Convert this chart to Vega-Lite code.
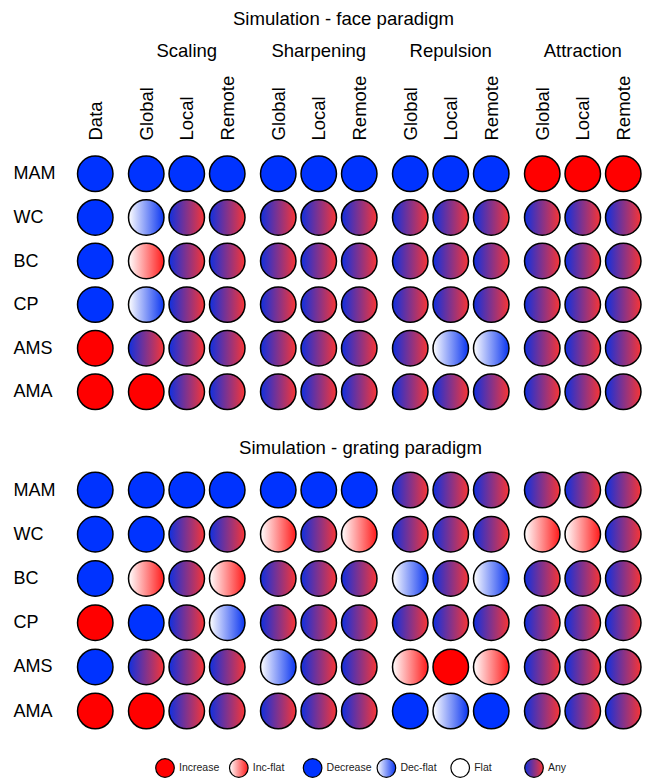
{
  "$schema": "https://vega.github.io/schema/vega-lite/v6.json",
  "padding": {"left": 13, "top": 9, "right": 0, "bottom": 0},
  "background": "white",
  "spacing": 22,
  "config": {
    "font": "Liberation Sans",
    "view": {"stroke": null},
    "axis": {"labelColor": "black", "labelFont": "Liberation Sans"},
    "header": {"labelColor": "black", "labelFont": "Liberation Sans"},
    "title": {"color": "black", "font": "Liberation Sans", "fontWeight": "normal", "fontSize": 18.6}
  },
  "datasets": {
    "face": [
      {"r":"MAM","g":"Data","c":"Data","t":"Decrease"},
      {"r":"MAM","g":"Scaling","c":"Global","t":"Decrease"},
      {"r":"MAM","g":"Scaling","c":"Local","t":"Decrease"},
      {"r":"MAM","g":"Scaling","c":"Remote","t":"Decrease"},
      {"r":"MAM","g":"Sharpening","c":"Global","t":"Decrease"},
      {"r":"MAM","g":"Sharpening","c":"Local","t":"Decrease"},
      {"r":"MAM","g":"Sharpening","c":"Remote","t":"Decrease"},
      {"r":"MAM","g":"Repulsion","c":"Global","t":"Decrease"},
      {"r":"MAM","g":"Repulsion","c":"Local","t":"Decrease"},
      {"r":"MAM","g":"Repulsion","c":"Remote","t":"Decrease"},
      {"r":"MAM","g":"Attraction","c":"Global","t":"Increase"},
      {"r":"MAM","g":"Attraction","c":"Local","t":"Increase"},
      {"r":"MAM","g":"Attraction","c":"Remote","t":"Increase"},
      {"r":"WC","g":"Data","c":"Data","t":"Decrease"},
      {"r":"WC","g":"Scaling","c":"Global","t":"Dec-flat"},
      {"r":"WC","g":"Scaling","c":"Local","t":"Any"},
      {"r":"WC","g":"Scaling","c":"Remote","t":"Any"},
      {"r":"WC","g":"Sharpening","c":"Global","t":"Any"},
      {"r":"WC","g":"Sharpening","c":"Local","t":"Any"},
      {"r":"WC","g":"Sharpening","c":"Remote","t":"Any"},
      {"r":"WC","g":"Repulsion","c":"Global","t":"Any"},
      {"r":"WC","g":"Repulsion","c":"Local","t":"Any"},
      {"r":"WC","g":"Repulsion","c":"Remote","t":"Any"},
      {"r":"WC","g":"Attraction","c":"Global","t":"Any"},
      {"r":"WC","g":"Attraction","c":"Local","t":"Any"},
      {"r":"WC","g":"Attraction","c":"Remote","t":"Any"},
      {"r":"BC","g":"Data","c":"Data","t":"Decrease"},
      {"r":"BC","g":"Scaling","c":"Global","t":"Inc-flat"},
      {"r":"BC","g":"Scaling","c":"Local","t":"Any"},
      {"r":"BC","g":"Scaling","c":"Remote","t":"Any"},
      {"r":"BC","g":"Sharpening","c":"Global","t":"Any"},
      {"r":"BC","g":"Sharpening","c":"Local","t":"Any"},
      {"r":"BC","g":"Sharpening","c":"Remote","t":"Any"},
      {"r":"BC","g":"Repulsion","c":"Global","t":"Any"},
      {"r":"BC","g":"Repulsion","c":"Local","t":"Any"},
      {"r":"BC","g":"Repulsion","c":"Remote","t":"Any"},
      {"r":"BC","g":"Attraction","c":"Global","t":"Any"},
      {"r":"BC","g":"Attraction","c":"Local","t":"Any"},
      {"r":"BC","g":"Attraction","c":"Remote","t":"Any"},
      {"r":"CP","g":"Data","c":"Data","t":"Decrease"},
      {"r":"CP","g":"Scaling","c":"Global","t":"Dec-flat"},
      {"r":"CP","g":"Scaling","c":"Local","t":"Any"},
      {"r":"CP","g":"Scaling","c":"Remote","t":"Any"},
      {"r":"CP","g":"Sharpening","c":"Global","t":"Any"},
      {"r":"CP","g":"Sharpening","c":"Local","t":"Any"},
      {"r":"CP","g":"Sharpening","c":"Remote","t":"Any"},
      {"r":"CP","g":"Repulsion","c":"Global","t":"Any"},
      {"r":"CP","g":"Repulsion","c":"Local","t":"Any"},
      {"r":"CP","g":"Repulsion","c":"Remote","t":"Any"},
      {"r":"CP","g":"Attraction","c":"Global","t":"Any"},
      {"r":"CP","g":"Attraction","c":"Local","t":"Any"},
      {"r":"CP","g":"Attraction","c":"Remote","t":"Any"},
      {"r":"AMS","g":"Data","c":"Data","t":"Increase"},
      {"r":"AMS","g":"Scaling","c":"Global","t":"Any"},
      {"r":"AMS","g":"Scaling","c":"Local","t":"Any"},
      {"r":"AMS","g":"Scaling","c":"Remote","t":"Any"},
      {"r":"AMS","g":"Sharpening","c":"Global","t":"Any"},
      {"r":"AMS","g":"Sharpening","c":"Local","t":"Any"},
      {"r":"AMS","g":"Sharpening","c":"Remote","t":"Any"},
      {"r":"AMS","g":"Repulsion","c":"Global","t":"Any"},
      {"r":"AMS","g":"Repulsion","c":"Local","t":"Dec-flat"},
      {"r":"AMS","g":"Repulsion","c":"Remote","t":"Dec-flat"},
      {"r":"AMS","g":"Attraction","c":"Global","t":"Any"},
      {"r":"AMS","g":"Attraction","c":"Local","t":"Any"},
      {"r":"AMS","g":"Attraction","c":"Remote","t":"Any"},
      {"r":"AMA","g":"Data","c":"Data","t":"Increase"},
      {"r":"AMA","g":"Scaling","c":"Global","t":"Increase"},
      {"r":"AMA","g":"Scaling","c":"Local","t":"Any"},
      {"r":"AMA","g":"Scaling","c":"Remote","t":"Any"},
      {"r":"AMA","g":"Sharpening","c":"Global","t":"Any"},
      {"r":"AMA","g":"Sharpening","c":"Local","t":"Any"},
      {"r":"AMA","g":"Sharpening","c":"Remote","t":"Any"},
      {"r":"AMA","g":"Repulsion","c":"Global","t":"Any"},
      {"r":"AMA","g":"Repulsion","c":"Local","t":"Any"},
      {"r":"AMA","g":"Repulsion","c":"Remote","t":"Any"},
      {"r":"AMA","g":"Attraction","c":"Global","t":"Any"},
      {"r":"AMA","g":"Attraction","c":"Local","t":"Any"},
      {"r":"AMA","g":"Attraction","c":"Remote","t":"Any"}
    ],
    "grating": [
      {"r":"MAM","g":"Data","c":"Data","t":"Decrease"},
      {"r":"MAM","g":"Scaling","c":"Global","t":"Decrease"},
      {"r":"MAM","g":"Scaling","c":"Local","t":"Decrease"},
      {"r":"MAM","g":"Scaling","c":"Remote","t":"Decrease"},
      {"r":"MAM","g":"Sharpening","c":"Global","t":"Decrease"},
      {"r":"MAM","g":"Sharpening","c":"Local","t":"Decrease"},
      {"r":"MAM","g":"Sharpening","c":"Remote","t":"Decrease"},
      {"r":"MAM","g":"Repulsion","c":"Global","t":"Any"},
      {"r":"MAM","g":"Repulsion","c":"Local","t":"Any"},
      {"r":"MAM","g":"Repulsion","c":"Remote","t":"Any"},
      {"r":"MAM","g":"Attraction","c":"Global","t":"Any"},
      {"r":"MAM","g":"Attraction","c":"Local","t":"Any"},
      {"r":"MAM","g":"Attraction","c":"Remote","t":"Any"},
      {"r":"WC","g":"Data","c":"Data","t":"Decrease"},
      {"r":"WC","g":"Scaling","c":"Global","t":"Decrease"},
      {"r":"WC","g":"Scaling","c":"Local","t":"Any"},
      {"r":"WC","g":"Scaling","c":"Remote","t":"Any"},
      {"r":"WC","g":"Sharpening","c":"Global","t":"Inc-flat"},
      {"r":"WC","g":"Sharpening","c":"Local","t":"Any"},
      {"r":"WC","g":"Sharpening","c":"Remote","t":"Inc-flat"},
      {"r":"WC","g":"Repulsion","c":"Global","t":"Any"},
      {"r":"WC","g":"Repulsion","c":"Local","t":"Any"},
      {"r":"WC","g":"Repulsion","c":"Remote","t":"Any"},
      {"r":"WC","g":"Attraction","c":"Global","t":"Inc-flat"},
      {"r":"WC","g":"Attraction","c":"Local","t":"Inc-flat"},
      {"r":"WC","g":"Attraction","c":"Remote","t":"Any"},
      {"r":"BC","g":"Data","c":"Data","t":"Decrease"},
      {"r":"BC","g":"Scaling","c":"Global","t":"Inc-flat"},
      {"r":"BC","g":"Scaling","c":"Local","t":"Any"},
      {"r":"BC","g":"Scaling","c":"Remote","t":"Inc-flat"},
      {"r":"BC","g":"Sharpening","c":"Global","t":"Any"},
      {"r":"BC","g":"Sharpening","c":"Local","t":"Any"},
      {"r":"BC","g":"Sharpening","c":"Remote","t":"Any"},
      {"r":"BC","g":"Repulsion","c":"Global","t":"Dec-flat"},
      {"r":"BC","g":"Repulsion","c":"Local","t":"Any"},
      {"r":"BC","g":"Repulsion","c":"Remote","t":"Dec-flat"},
      {"r":"BC","g":"Attraction","c":"Global","t":"Any"},
      {"r":"BC","g":"Attraction","c":"Local","t":"Any"},
      {"r":"BC","g":"Attraction","c":"Remote","t":"Any"},
      {"r":"CP","g":"Data","c":"Data","t":"Increase"},
      {"r":"CP","g":"Scaling","c":"Global","t":"Decrease"},
      {"r":"CP","g":"Scaling","c":"Local","t":"Any"},
      {"r":"CP","g":"Scaling","c":"Remote","t":"Dec-flat"},
      {"r":"CP","g":"Sharpening","c":"Global","t":"Any"},
      {"r":"CP","g":"Sharpening","c":"Local","t":"Any"},
      {"r":"CP","g":"Sharpening","c":"Remote","t":"Any"},
      {"r":"CP","g":"Repulsion","c":"Global","t":"Any"},
      {"r":"CP","g":"Repulsion","c":"Local","t":"Any"},
      {"r":"CP","g":"Repulsion","c":"Remote","t":"Any"},
      {"r":"CP","g":"Attraction","c":"Global","t":"Any"},
      {"r":"CP","g":"Attraction","c":"Local","t":"Any"},
      {"r":"CP","g":"Attraction","c":"Remote","t":"Any"},
      {"r":"AMS","g":"Data","c":"Data","t":"Decrease"},
      {"r":"AMS","g":"Scaling","c":"Global","t":"Any"},
      {"r":"AMS","g":"Scaling","c":"Local","t":"Any"},
      {"r":"AMS","g":"Scaling","c":"Remote","t":"Any"},
      {"r":"AMS","g":"Sharpening","c":"Global","t":"Dec-flat"},
      {"r":"AMS","g":"Sharpening","c":"Local","t":"Any"},
      {"r":"AMS","g":"Sharpening","c":"Remote","t":"Any"},
      {"r":"AMS","g":"Repulsion","c":"Global","t":"Inc-flat"},
      {"r":"AMS","g":"Repulsion","c":"Local","t":"Increase"},
      {"r":"AMS","g":"Repulsion","c":"Remote","t":"Inc-flat"},
      {"r":"AMS","g":"Attraction","c":"Global","t":"Any"},
      {"r":"AMS","g":"Attraction","c":"Local","t":"Any"},
      {"r":"AMS","g":"Attraction","c":"Remote","t":"Any"},
      {"r":"AMA","g":"Data","c":"Data","t":"Increase"},
      {"r":"AMA","g":"Scaling","c":"Global","t":"Increase"},
      {"r":"AMA","g":"Scaling","c":"Local","t":"Any"},
      {"r":"AMA","g":"Scaling","c":"Remote","t":"Any"},
      {"r":"AMA","g":"Sharpening","c":"Global","t":"Any"},
      {"r":"AMA","g":"Sharpening","c":"Local","t":"Any"},
      {"r":"AMA","g":"Sharpening","c":"Remote","t":"Any"},
      {"r":"AMA","g":"Repulsion","c":"Global","t":"Decrease"},
      {"r":"AMA","g":"Repulsion","c":"Local","t":"Dec-flat"},
      {"r":"AMA","g":"Repulsion","c":"Remote","t":"Decrease"},
      {"r":"AMA","g":"Attraction","c":"Global","t":"Any"},
      {"r":"AMA","g":"Attraction","c":"Local","t":"Any"},
      {"r":"AMA","g":"Attraction","c":"Remote","t":"Any"}
    ],
    "legend": [
      {"t":"Increase"},{"t":"Inc-flat"},{"t":"Decrease"},{"t":"Dec-flat"},{"t":"Flat"},{"t":"Any"}
    ]
  },
  "vconcat": [
    {
      "data": {"name": "face"},
      "title": {"text": "Simulation - face paradigm", "anchor": "middle", "dx": 15, "offset": 13},
      "facet": {"column": {"field": "g", "type": "nominal", "title": null,
        "sort": ["Data","Scaling","Sharpening","Repulsion","Attraction"],
        "header": {"labelFontSize": 18.5, "labelExpr": "datum.value === 'Data' ? '' : datum.value", "labelPadding": 15}}},
      "spacing": 9,
      "resolve": {"scale": {"x": "independent"}},
      "spec": {
        "width": {"step": 40.5},
        "height": {"step": 43.6},
        "mark": {"type": "circle", "size": 1257, "stroke": "black", "strokeWidth": 1.5, "opacity": 1},
        "encoding": {
          "x": {"field": "c", "type": "nominal", "sort": ["Data","Global","Local","Remote"],
            "scale": {"padding": 0.5},
            "axis": {"orient": "top", "title": null, "labelAngle": -90, "labelFontSize": 18.5, "ticks": false, "domain": false, "labelPadding": 12}},
          "y": {"field": "r", "type": "nominal", "sort": ["MAM","WC","BC","CP","AMS","AMA"],
            "scale": {"padding": 0.5344, "align": 0.468},
            "axis": {"title": null, "ticks": false, "domain": false, "labelAlign": "left", "labelPadding": 61, "labelFontSize": 18}},
          "fill": {
            "condition": [
              {"test": "datum.t === 'Increase'", "value": "#ff0000"},
              {"test": "datum.t === 'Decrease'", "value": "#0033ff"},
              {"test": "datum.t === 'Inc-flat'", "value": {"gradient": "linear", "x1": 0, "y1": 0, "x2": 1, "y2": 0, "stops": [{"offset": 0, "color": "#ffffff"}, {"offset": 1, "color": "#ff1a1a"}]}},
              {"test": "datum.t === 'Dec-flat'", "value": {"gradient": "linear", "x1": 0, "y1": 0, "x2": 1, "y2": 0, "stops": [{"offset": 0, "color": "#ffffff"}, {"offset": 1, "color": "#0a35f0"}]}},
              {"test": "datum.t === 'Flat'", "value": "#ffffff"}
            ],
            "value": {"gradient": "linear", "x1": 0, "y1": 0, "x2": 1, "y2": 0, "stops": [{"offset": 0, "color": "#1030e0"}, {"offset": 1, "color": "#f83535"}]}
          }
        }
      }
    },
    {
      "data": {"name": "grating"},
      "title": {"text": "Simulation - grating paradigm", "anchor": "middle", "dx": 32, "offset": 10},
      "facet": {"column": {"field": "g", "type": "nominal", "title": null,
        "sort": ["Data","Scaling","Sharpening","Repulsion","Attraction"],
        "header": {"labels": false}}},
      "spacing": 9,
      "resolve": {"scale": {"x": "independent"}},
      "spec": {
        "width": {"step": 40.5},
        "height": {"step": 44.2},
        "mark": {"type": "circle", "size": 1257, "stroke": "black", "strokeWidth": 1.5, "opacity": 1},
        "encoding": {
          "x": {"field": "c", "type": "nominal", "sort": ["Data","Global","Local","Remote"],
            "scale": {"padding": 0.5}, "axis": null},
          "y": {"field": "r", "type": "nominal", "sort": ["MAM","WC","BC","CP","AMS","AMA"],
            "scale": {"padding": 0.5},
            "axis": {"title": null, "ticks": false, "domain": false, "labelAlign": "left", "labelPadding": 61, "labelFontSize": 18}},
          "fill": {
            "condition": [
              {"test": "datum.t === 'Increase'", "value": "#ff0000"},
              {"test": "datum.t === 'Decrease'", "value": "#0033ff"},
              {"test": "datum.t === 'Inc-flat'", "value": {"gradient": "linear", "x1": 0, "y1": 0, "x2": 1, "y2": 0, "stops": [{"offset": 0, "color": "#ffffff"}, {"offset": 1, "color": "#ff1a1a"}]}},
              {"test": "datum.t === 'Dec-flat'", "value": {"gradient": "linear", "x1": 0, "y1": 0, "x2": 1, "y2": 0, "stops": [{"offset": 0, "color": "#ffffff"}, {"offset": 1, "color": "#0a35f0"}]}},
              {"test": "datum.t === 'Flat'", "value": "#ffffff"}
            ],
            "value": {"gradient": "linear", "x1": 0, "y1": 0, "x2": 1, "y2": 0, "stops": [{"offset": 0, "color": "#1030e0"}, {"offset": 1, "color": "#f83535"}]}
          }
        }
      }
    },
    {
      "data": {"name": "legend"},
      "width": 540,
      "height": 6,
      "encoding": {
        "x": {"field": "t", "type": "nominal", "sort": ["Increase","Inc-flat","Decrease","Dec-flat","Flat","Any"],
          "scale": {"type": "point", "padding": 0, "range": [90, 459]}, "axis": null}
      },
      "layer": [
        {
          "mark": {"type": "circle", "size": 346, "stroke": "black", "strokeWidth": 1.2, "opacity": 1},
          "encoding": {
            "fill": {
              "condition": [
                {"test": "datum.t === 'Increase'", "value": "#ff0000"},
                {"test": "datum.t === 'Decrease'", "value": "#0033ff"},
                {"test": "datum.t === 'Inc-flat'", "value": {"gradient": "linear", "x1": 0, "y1": 0, "x2": 1, "y2": 0, "stops": [{"offset": 0, "color": "#ffffff"}, {"offset": 1, "color": "#ff1a1a"}]}},
                {"test": "datum.t === 'Dec-flat'", "value": {"gradient": "linear", "x1": 0, "y1": 0, "x2": 1, "y2": 0, "stops": [{"offset": 0, "color": "#ffffff"}, {"offset": 1, "color": "#0a35f0"}]}},
                {"test": "datum.t === 'Flat'", "value": "#ffffff"}
              ],
              "value": {"gradient": "linear", "x1": 0, "y1": 0, "x2": 1, "y2": 0, "stops": [{"offset": 0, "color": "#1030e0"}, {"offset": 1, "color": "#f83535"}]}
            }
          }
        },
        {
          "mark": {"type": "text", "align": "left", "baseline": "middle", "dx": 14, "fontSize": 10.5, "color": "#222222"},
          "encoding": {"text": {"field": "t"}}
        }
      ]
    }
  ]
}
